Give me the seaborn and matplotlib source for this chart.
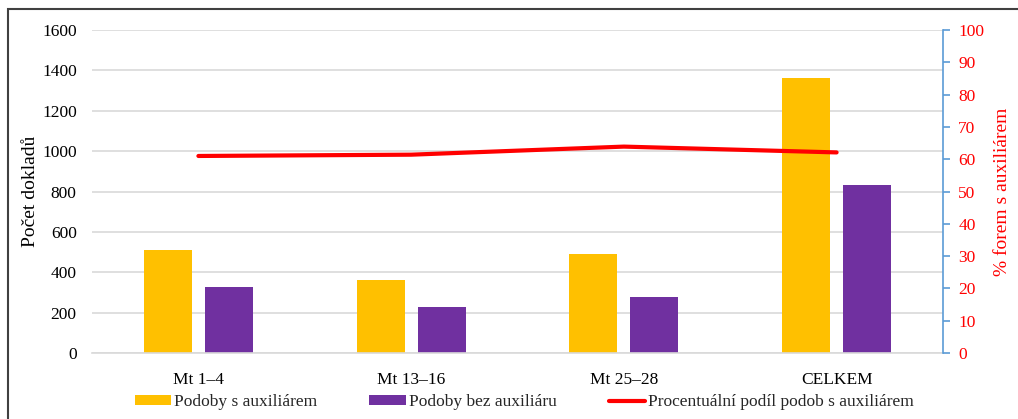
import numpy as np
import pandas as pd
import matplotlib
matplotlib.use("Agg")
import matplotlib.pyplot as plt
from matplotlib.patches import Rectangle, Patch
from matplotlib.lines import Line2D
import seaborn as sns

categories = ["Mt 1–4", "Mt 13–16", "Mt 25–28", "CELKEM"]
s_auxiliarem = [510, 362, 490, 1362]
bez_auxiliaru = [327, 228, 277, 832]
podil_pct = [61.0, 61.4, 63.9, 62.1]

series_names = ["Podoby s auxiliárem", "Podoby bez auxiliáru"]
line_name = "Procentuální podíl podob s auxiliárem"

df = pd.DataFrame({
    "kategorie": categories * 2,
    "pocet": s_auxiliarem + bez_auxiliaru,
    "serie": [series_names[0]] * 4 + [series_names[1]] * 4,
})

sns.set_theme(style="white")
plt.rcParams["font.family"] = ["Liberation Serif", "DejaVu Serif"]

YELLOW = "#FFC000"
PURPLE = "#7030A0"
RED = "#FF0000"
BLUE = "#5B9BD5"
GRID = "#D9D9D9"
FS = 12.5

fig = plt.figure(figsize=(10.18, 4.19), dpi=100)
ax = fig.add_axes([0.0904, 0.1575, 0.8359, 0.7709])

sns.barplot(data=df, x="kategorie", y="pocet", hue="serie",
            palette=[YELLOW, PURPLE], width=0.573, gap=0.213,
            ax=ax, legend=False, saturation=1, edgecolor="none")

ax.set_xlim(-0.5, 3.5)
ax.set_ylim(0, 1600)
ax.set_yticks(np.arange(0, 1601, 200))
ax.yaxis.grid(True, color=GRID, linewidth=1.2)
ax.set_axisbelow(True)
for s in ["top", "right", "left"]:
    ax.spines[s].set_visible(False)
ax.spines["bottom"].set_color(GRID)
ax.spines["bottom"].set_linewidth(1.2)
ax.tick_params(axis="y", length=0, pad=11, labelsize=FS, labelcolor="black")
ax.tick_params(axis="x", length=0, pad=14, labelsize=FS, labelcolor="black")
ax.set_xlabel("")
ax.set_ylabel("Počet dokladů", fontsize=14, color="black", labelpad=2)

ax2 = ax.twinx()
sns.lineplot(x=np.arange(len(categories)), y=podil_pct, ax=ax2,
             color=RED, linewidth=3.0, solid_capstyle="round")
ax2.set_xlim(-0.5, 3.5)
ax2.set_ylim(0, 100)
ax2.set_yticks(np.arange(0, 101, 10))
for s in ["top", "left", "bottom"]:
    ax2.spines[s].set_visible(False)
ax2.spines["right"].set_color(BLUE)
ax2.spines["right"].set_linewidth(1.2)
ax2.tick_params(axis="y", direction="out", length=5, width=1.2, color=BLUE,
                pad=6, labelsize=FS, labelcolor=RED)
ax2.grid(False)
ax2.set_ylabel("% forem s auxiliárem", fontsize=14, color=RED, labelpad=7)

handles = [
    Patch(facecolor=YELLOW, edgecolor="none"),
    Patch(facecolor=PURPLE, edgecolor="none"),
    Line2D([0], [0], color=RED, linewidth=3.0),
]
fig.legend(handles, series_names + [line_name], loc="center",
           bbox_to_anchor=(0.515, 0.04), ncol=3, frameon=False,
           fontsize=FS, handlelength=2.1, handleheight=0.45,
           handletextpad=0.17, columnspacing=3.0)

fig.patches.append(Rectangle((8 / 1018, -0.1), 1.2, (419 - 9) / 419 + 0.1,
                             transform=fig.transFigure, fill=False,
                             edgecolor="#404040", linewidth=1.5))

fig.savefig("out.png", dpi=100)
